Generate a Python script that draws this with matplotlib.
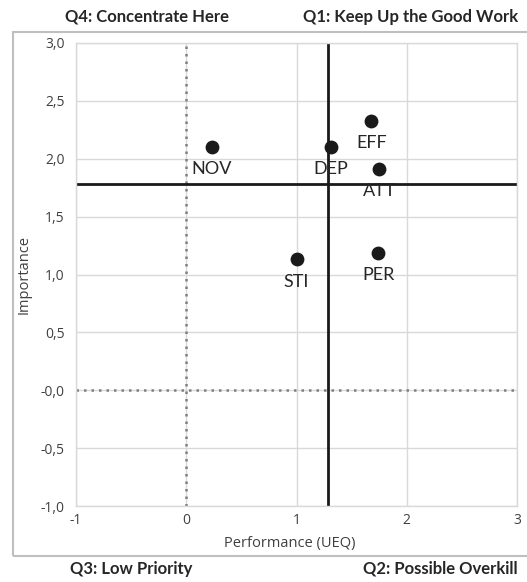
import matplotlib.pyplot as plt
from matplotlib.patches import Rectangle

# UEQ scales: performance (x) vs importance (y)
labels = ["NOV", "DEP", "EFF", "ATT", "STI", "PER"]
performance = [0.23, 1.31, 1.68, 1.75, 1.00, 1.74]
importance = [2.10, 2.10, 2.33, 1.91, 1.13, 1.19]

mean_performance = 1.29
mean_importance = 1.785

x_ticks = [-1, 0, 1, 2, 3]
x_ticklabels = ["-1", "0", "1", "2", "3"]
y_ticks = [3.0, 2.5, 2.0, 1.5, 1.0, 0.5, 0.0, -0.5, -1.0]
y_ticklabels = ["3,0", "2,5", "2,0", "1,5", "1,0", "0,5", "-0,0", "-0,5", "-1,0"]

W, H = 527, 582
fig = plt.figure(figsize=(W / 100, H / 100), dpi=100)
ax = fig.add_axes([76 / W, (H - 506) / H, 441 / W, 463 / H])

ax.set_xlim(-1, 3)
ax.set_ylim(-1, 3)
ax.set_xticks(x_ticks)
ax.set_xticklabels(x_ticklabels)
ax.set_yticks(y_ticks)
ax.set_yticklabels(y_ticklabels)
ax.tick_params(length=0, labelsize=10, labelcolor="#404040")
ax.tick_params(axis="y", pad=8)
ax.tick_params(axis="x", pad=5)
for lbl in ax.get_xticklabels() + ax.get_yticklabels():
    lbl.set_fontfamily("Open Sans")

ax.grid(True, color="#d9d9d9", linewidth=1)
ax.set_axisbelow(True)
for sp in ax.spines.values():
    sp.set_color("#d9d9d9")
    sp.set_linewidth(1)

# zero lines
ax.axvline(0, color="#808080", linestyle=(0, (1, 2)), linewidth=1.8, zorder=1)
ax.axhline(0, color="#808080", linestyle=(0, (1, 2)), linewidth=1.8, zorder=1)

# mean lines
ax.axvline(mean_performance, color="#1a1a1a", linewidth=2, zorder=2)
ax.axhline(mean_importance, color="#1a1a1a", linewidth=2, zorder=2)

ax.scatter(performance, importance, s=80, color="#1a1a1a", zorder=3)
for name, x, y in zip(labels, performance, importance):
    ax.annotate(name, (x, y), xytext=(0, -16), textcoords="offset points",
                ha="center", va="center", fontsize=13, color="#262626",
                family="Lato", zorder=4)

ax.set_xlabel("Performance (UEQ)", fontsize=10.5, color="#404040",
              family="Open Sans", labelpad=6)
ax.xaxis.set_label_coords(0.485, -0.065)
ax.set_ylabel("Importance", fontsize=10.5, color="#404040",
              family="Open Sans")
ax.yaxis.set_label_coords(-0.1, 0.5)

# outer chart frame
fig.patches.append(Rectangle((13 / W, (H - 556) / H), 530 / W, 524 / H,
                             transform=fig.transFigure, fill=False,
                             edgecolor="#bfbfbf", linewidth=1.5))

qkw = dict(fontsize=12, fontweight="bold", color="#262626", family="Lato",
           va="center")
fig.text(147 / W, 1 - 17 / H, "Q4: Concentrate Here", ha="center", **qkw)
fig.text(518 / W, 1 - 17 / H, "Q1: Keep Up the Good Work", ha="right", **qkw)
fig.text(131 / W, 1 - 569 / H, "Q3: Low Priority", ha="center", **qkw)
fig.text(518 / W, 1 - 569 / H, "Q2: Possible Overkill", ha="right", **qkw)

fig.savefig("out.png", dpi=100)
